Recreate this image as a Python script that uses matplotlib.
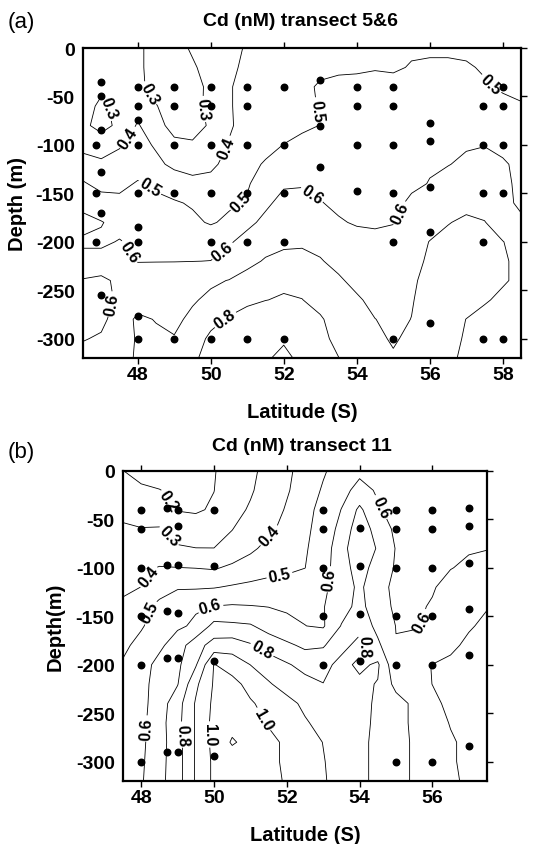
import numpy as np
import matplotlib
matplotlib.use("Agg")
import matplotlib.pyplot as plt

plt.rcParams['font.family'] = ['Liberation Sans', 'DejaVu Sans']
plt.rcParams['font.weight'] = 'bold'
plt.rcParams['axes.unicode_minus'] = False

# ---------------------------
# PANEL (a) : transect 5&6
# ---------------------------
lat_a = [46.5, 47.0, 47.5, 48.0, 48.5, 49.0, 49.5, 50.0, 50.5, 51.0, 51.5, 52.0, 52.5,
         53.0, 53.5, 54.0, 54.5, 55.0, 55.5, 56.0, 56.5, 57.0, 57.5, 58.0, 58.5]
depth_a = [0, -20, -40, -60, -80, -100, -120, -140, -160, -180, -200, -220, -240,
           -260, -280, -300, -320]
cd_a = np.array([
    [0.35, 0.35, 0.33, 0.31, 0.28, 0.27, 0.31, 0.34, 0.37, 0.41, 0.43, 0.44, 0.45, 0.46, 0.46, 0.46, 0.47, 0.47, 0.48, 0.48, 0.48, 0.48, 0.47, 0.46, 0.45],
    [0.36, 0.35, 0.33, 0.31, 0.28, 0.27, 0.29, 0.33, 0.38, 0.42, 0.44, 0.46, 0.47, 0.48, 0.48, 0.48, 0.49, 0.48, 0.51, 0.52, 0.52, 0.51, 0.49, 0.47, 0.46],
    [0.36, 0.32, 0.33, 0.32, 0.27, 0.25, 0.27, 0.32, 0.395, 0.42, 0.45, 0.47, 0.48, 0.51, 0.53, 0.54, 0.55, 0.55, 0.55, 0.55, 0.54, 0.53, 0.51, 0.49, 0.47],
    [0.34, 0.28, 0.33, 0.37, 0.305, 0.25, 0.26, 0.33, 0.395, 0.42, 0.44, 0.46, 0.48, 0.505, 0.53, 0.55, 0.56, 0.56, 0.56, 0.56, 0.56, 0.55, 0.54, 0.52, 0.51],
    [0.32, 0.27, 0.32, 0.41, 0.33, 0.27, 0.27, 0.31, 0.39, 0.43, 0.44, 0.46, 0.48, 0.502, 0.53, 0.55, 0.56, 0.56, 0.57, 0.57, 0.57, 0.57, 0.56, 0.55, 0.54],
    [0.37, 0.35, 0.39, 0.43, 0.39, 0.32, 0.31, 0.34, 0.405, 0.44, 0.47, 0.502, 0.53, 0.54, 0.56, 0.57, 0.58, 0.58, 0.58, 0.58, 0.59, 0.595, 0.598, 0.59, 0.58],
    [0.44, 0.42, 0.44, 0.45, 0.42, 0.38, 0.36, 0.38, 0.43, 0.47, 0.51, 0.53, 0.55, 0.56, 0.57, 0.58, 0.585, 0.59, 0.59, 0.595, 0.598, 0.61, 0.62, 0.605, 0.59],
    [0.51, 0.47, 0.47, 0.51, 0.485, 0.45, 0.43, 0.43, 0.46, 0.49, 0.55, 0.59, 0.595, 0.58, 0.58, 0.58, 0.58, 0.585, 0.59, 0.602, 0.62, 0.63, 0.63, 0.61, 0.59],
    [0.58, 0.54, 0.53, 0.53, 0.52, 0.51, 0.49, 0.47, 0.485, 0.51, 0.585, 0.625, 0.62, 0.605, 0.58, 0.57, 0.57, 0.585, 0.61, 0.64, 0.66, 0.67, 0.67, 0.63, 0.58],
    [0.62, 0.605, 0.57, 0.56, 0.55, 0.54, 0.52, 0.49, 0.52, 0.58, 0.62, 0.65, 0.64, 0.63, 0.61, 0.59, 0.585, 0.595, 0.63, 0.67, 0.695, 0.72, 0.703, 0.66, 0.62],
    [0.59, 0.585, 0.605, 0.58, 0.57, 0.56, 0.56, 0.57, 0.59, 0.63, 0.66, 0.68, 0.685, 0.68, 0.66, 0.64, 0.63, 0.64, 0.67, 0.702, 0.73, 0.74, 0.73, 0.702, 0.67],
    [0.62, 0.63, 0.62, 0.598, 0.598, 0.598, 0.599, 0.601, 0.63, 0.67, 0.71, 0.73, 0.73, 0.705, 0.68, 0.66, 0.65, 0.66, 0.68, 0.71, 0.74, 0.76, 0.75, 0.71, 0.68],
    [0.598, 0.59, 0.61, 0.63, 0.64, 0.65, 0.67, 0.685, 0.703, 0.74, 0.76, 0.78, 0.77, 0.74, 0.71, 0.68, 0.66, 0.67, 0.69, 0.72, 0.75, 0.77, 0.76, 0.71, 0.68],
    [0.58, 0.58, 0.61, 0.65, 0.66, 0.67, 0.69, 0.72, 0.75, 0.78, 0.798, 0.81, 0.802, 0.77, 0.74, 0.71, 0.68, 0.68, 0.695, 0.73, 0.74, 0.73, 0.71, 0.68, 0.66],
    [0.57, 0.58, 0.64, 0.72, 0.695, 0.68, 0.72, 0.77, 0.81, 0.84, 0.86, 0.87, 0.85, 0.81, 0.76, 0.73, 0.701, 0.685, 0.701, 0.74, 0.73, 0.699, 0.67, 0.65, 0.64],
    [0.595, 0.61, 0.65, 0.71, 0.72, 0.705, 0.75, 0.82, 0.85, 0.87, 0.88, 0.89, 0.87, 0.83, 0.77, 0.74, 0.72, 0.69, 0.72, 0.75, 0.73, 0.69, 0.66, 0.64, 0.63],
    [0.63, 0.64, 0.67, 0.71, 0.73, 0.75, 0.78, 0.84, 0.86, 0.87, 0.89, 0.92, 0.88, 0.84, 0.802, 0.76, 0.73, 0.71, 0.73, 0.74, 0.72, 0.68, 0.66, 0.64, 0.63],
])
label_levels_a = [0.3, 0.4, 0.5, 0.6, 0.8]
plain_levels_a = [0.7, 0.9]
label_pos_a = [(47.2, -62), (48.3, -47), (49.8, -63), (47.7, -92), (50.45, -104),
               (48.35, -143), (50.83, -159), (53.0, -64), (57.63, -39),
               (52.78, -151), (55.2, -171), (47.74, -211), (50.35, -211), (47.35, -265),
               (50.39, -280)]

# sample stations (lat, depth)
st_lat_a = [46.85, 46.85, 46.85,
            47, 47, 47, 47, 47, 47,
            48, 48, 48, 48, 48, 48, 48, 48, 48,
            49, 49, 49, 49, 49,
            50, 50, 50, 50, 50, 50,
            51, 51, 51, 51, 51, 51,
            52, 52, 52, 52, 52,
            53, 53, 53,
            54, 54, 54, 54,
            55, 55, 55, 55, 55, 55,
            56, 56, 56, 56, 56,
            57.45, 57.45, 57.45, 57.45, 57.45,
            58, 58, 58, 58, 58]
st_dep_a = [-100, -150, -200,
            -35, -50, -85, -128, -170, -255,
            -40, -60, -74, -100, -150, -185, -200, -277, -300,
            -40, -60, -100, -150, -300,
            -40, -60, -100, -150, -200, -300,
            -40, -60, -100, -150, -200, -300,
            -40, -100, -150, -200, -300,
            -33, -81, -123,
            -40, -60, -100, -148,
            -40, -60, -100, -150, -200, -300,
            -77, -96, -143, -190, -284,
            -60, -100, -150, -200, -300,
            -40, -60, -100, -150, -300]

# ---------------------------
# PANEL (b) : transect 11
# ---------------------------
lat_b = [47.5, 48.0, 48.5, 49.0, 49.5, 50.0, 50.5, 51.0, 51.5, 52.0, 52.5,
         53.0, 53.5, 54.0, 54.5, 55.0, 55.5, 56.0, 56.5, 57.0, 57.5]
depth_b = [0, -20, -40, -60, -80, -100, -120, -140, -160, -180, -200, -220, -240,
           -260, -280, -300, -320]
cd_b = np.array([
    [0.201, 0.18, 0.17, 0.17, 0.18, 0.195, 0.24, 0.28, 0.33, 0.38, 0.44, 0.49, 0.54, 0.58, 0.56, 0.55, 0.54, 0.54, 0.53, 0.53, 0.53],
    [0.23, 0.21, 0.202, 0.185, 0.185, 0.199, 0.25, 0.29, 0.34, 0.39, 0.45, 0.51, 0.57, 0.63, 0.59, 0.56, 0.55, 0.55, 0.54, 0.54, 0.54],
    [0.26, 0.24, 0.22, 0.195, 0.19, 0.21, 0.27, 0.31, 0.35, 0.41, 0.47, 0.53, 0.602, 0.72, 0.61, 0.57, 0.56, 0.56, 0.55, 0.55, 0.55],
    [0.32, 0.305, 0.31, 0.26, 0.24, 0.26, 0.298, 0.34, 0.38, 0.43, 0.48, 0.54, 0.63, 0.76, 0.66, 0.58, 0.57, 0.57, 0.57, 0.58, 0.585],
    [0.36, 0.35, 0.34, 0.31, 0.302, 0.301, 0.33, 0.38, 0.43, 0.46, 0.49, 0.55, 0.66, 0.78, 0.69, 0.595, 0.58, 0.58, 0.59, 0.595, 0.598],
    [0.37, 0.38, 0.405, 0.402, 0.398, 0.39, 0.42, 0.45, 0.47, 0.48, 0.499, 0.56, 0.66, 0.74, 0.66, 0.59, 0.58, 0.59, 0.598, 0.61, 0.62],
    [0.38, 0.401, 0.45, 0.49, 0.49, 0.495, 0.51, 0.52, 0.53, 0.54, 0.55, 0.58, 0.65, 0.72, 0.63, 0.58, 0.59, 0.595, 0.62, 0.64, 0.645],
    [0.42, 0.46, 0.53, 0.57, 0.59, 0.603, 0.61, 0.605, 0.598, 0.59, 0.585, 0.595, 0.66, 0.73, 0.64, 0.585, 0.59, 0.605, 0.63, 0.64, 0.605],
    [0.45, 0.49, 0.55, 0.585, 0.615, 0.73, 0.72, 0.71, 0.66, 0.62, 0.601, 0.59, 0.705, 0.77, 0.67, 0.598, 0.59, 0.62, 0.63, 0.61, 0.58],
    [0.48, 0.53, 0.58, 0.65, 0.76, 0.84, 0.85, 0.81, 0.76, 0.72, 0.68, 0.69, 0.77, 0.83, 0.72, 0.603, 0.64, 0.65, 0.62, 0.58, 0.56],
    [0.51, 0.56, 0.63, 0.68, 0.79, 1.004, 0.96, 0.899, 0.85, 0.81, 0.77, 0.77, 0.83, 0.78, 0.815, 0.62, 0.61, 0.599, 0.58, 0.55, 0.54],
    [0.52, 0.57, 0.64, 0.695, 0.88, 1.01, 1.03, 0.97, 0.91, 0.86, 0.83, 0.802, 0.83, 0.82, 0.795, 0.67, 0.64, 0.599, 0.58, 0.56, 0.55],
    [0.52, 0.57, 0.65, 0.76, 0.91, 1.02, 1.05, 1.01, 0.97, 0.93, 0.88, 0.86, 0.84, 0.82, 0.79, 0.74, 0.68, 0.62, 0.58, 0.56, 0.55],
    [0.53, 0.575, 0.66, 0.77, 0.91, 1.03, 1.07, 1.05, 0.99, 0.95, 0.91, 0.87, 0.85, 0.83, 0.78, 0.73, 0.685, 0.64, 0.595, 0.57, 0.56],
    [0.53, 0.58, 0.66, 0.76, 0.91, 1.03, 1.11, 1.07, 1.03, 0.98, 0.94, 0.898, 0.86, 0.82, 0.78, 0.73, 0.69, 0.65, 0.61, 0.58, 0.57],
    [0.535, 0.585, 0.665, 0.76, 0.91, 1.02, 1.05, 1.06, 1.03, 0.98, 0.95, 0.905, 0.86, 0.82, 0.78, 0.73, 0.69, 0.65, 0.61, 0.58, 0.57],
    [0.54, 0.59, 0.67, 0.76, 0.91, 1.02, 1.04, 1.05, 1.03, 0.99, 0.95, 0.91, 0.86, 0.82, 0.78, 0.73, 0.69, 0.65, 0.62, 0.58, 0.57],
])
label_levels_b = [0.2, 0.3, 0.4, 0.5, 0.6, 0.8, 1.0]
plain_levels_b = [0.7, 0.9, 1.1]
label_pos_b = [(48.8, -30), (48.8, -66), (48.16, -108), (51.5, -66),
               (48.24, -146), (51.8, -108),
               (49.9, -141), (53.2, -112), (54.55, -38), (55.66, -155), (48.24, -266),
               (51.33, -184), (54.17, -181), (49.2, -272),
               (49.81, -272), (51.37, -256)]

st_lat_b = [48, 48, 48, 48, 48, 48,
            48.7, 48.7, 48.7, 48.7, 48.7,
            49, 49, 49, 49, 49, 49,
            50, 50, 50, 50,
            53, 53, 53, 53, 53,
            54, 54, 54, 54,
            55, 55, 55, 55, 55, 55,
            56, 56, 56, 56, 56, 56,
            57, 57, 57, 57, 57, 57]
st_dep_b = [-40, -60, -100, -150, -200, -300,
            -38, -97, -145, -193, -290,
            -40, -57, -97, -147, -193, -290,
            -40, -98, -196, -294,
            -40, -60, -100, -150, -200,
            -59, -98, -148, -196,
            -40, -60, -100, -150, -200, -300,
            -40, -60, -100, -150, -200, -300,
            -38, -57, -95, -143, -190, -284]


def draw_panel(ax, lat, depth, cd, lab_levels, plain_levels, lab_pos, st_lat, st_dep, xticks):
    ax.contour(lat, depth, cd, levels=plain_levels, colors='black', linewidths=0.6)
    cs = ax.contour(lat, depth, cd, levels=lab_levels, colors='black', linewidths=0.6)
    texts = ax.clabel(cs, manual=lab_pos, fmt='%.1f',
                      fontsize=11.5, inline=True, inline_spacing=2)
    for t in texts:
        t.set_fontweight('bold')
    ax.scatter(st_lat, st_dep, s=22, c='black', zorder=3, clip_on=False)
    ax.set_xlim(lat[0], lat[-1])
    ax.set_ylim(-320, 0)
    ax.set_xticks(xticks)
    ax.set_yticks([0, -50, -100, -150, -200, -250, -300])
    ax.tick_params(axis='x', top=True, bottom=True, direction='out', length=4,
                   width=1, labelsize=14, pad=2)
    ax.tick_params(axis='y', left=False, right=True, direction='out', length=4,
                   width=1, labelsize=14, pad=2)
    for sp in ax.spines.values():
        sp.set_linewidth(1.6)


fig = plt.figure(figsize=(5.51, 8.45), dpi=100)

ax1 = fig.add_axes([0.1506, 0.5751, 0.795, 0.3669])
draw_panel(ax1, lat_a, depth_a, cd_a, label_levels_a, plain_levels_a, label_pos_a,
           st_lat_a, st_dep_a, [48, 50, 52, 54, 56, 58])

ax2 = fig.add_axes([0.2232, 0.0746, 0.6606, 0.3669])
draw_panel(ax2, lat_b, depth_b, cd_b, label_levels_b, plain_levels_b, label_pos_b,
           st_lat_b, st_dep_b, [48, 50, 52, 54, 56])

# titles, panel letters, axis labels
fig.text(0.013, 0.973, "(a)", fontsize=16, fontweight='normal', ha='left', va='center')
fig.text(0.546, 0.974, "Cd (nM) transect 5&6", fontsize=14, ha='center', va='center')
fig.text(0.031, 0.7586, "Depth (m)", fontsize=14.5, rotation=90, ha='center', va='center')
fig.text(0.548, 0.5124, "Latitude (S)", fontsize=14.5, ha='center', va='center')

fig.text(0.013, 0.465, "(b)", fontsize=16, fontweight='normal', ha='left', va='center')
fig.text(0.548, 0.472, "Cd (nM) transect 11", fontsize=14, ha='center', va='center')
fig.text(0.10, 0.258, "Depth(m)", fontsize=14.5, rotation=90, ha='center', va='center')
fig.text(0.5535, 0.0118, "Latitude (S)", fontsize=14.5, ha='center', va='center')

fig.savefig("out.png", dpi=100)
